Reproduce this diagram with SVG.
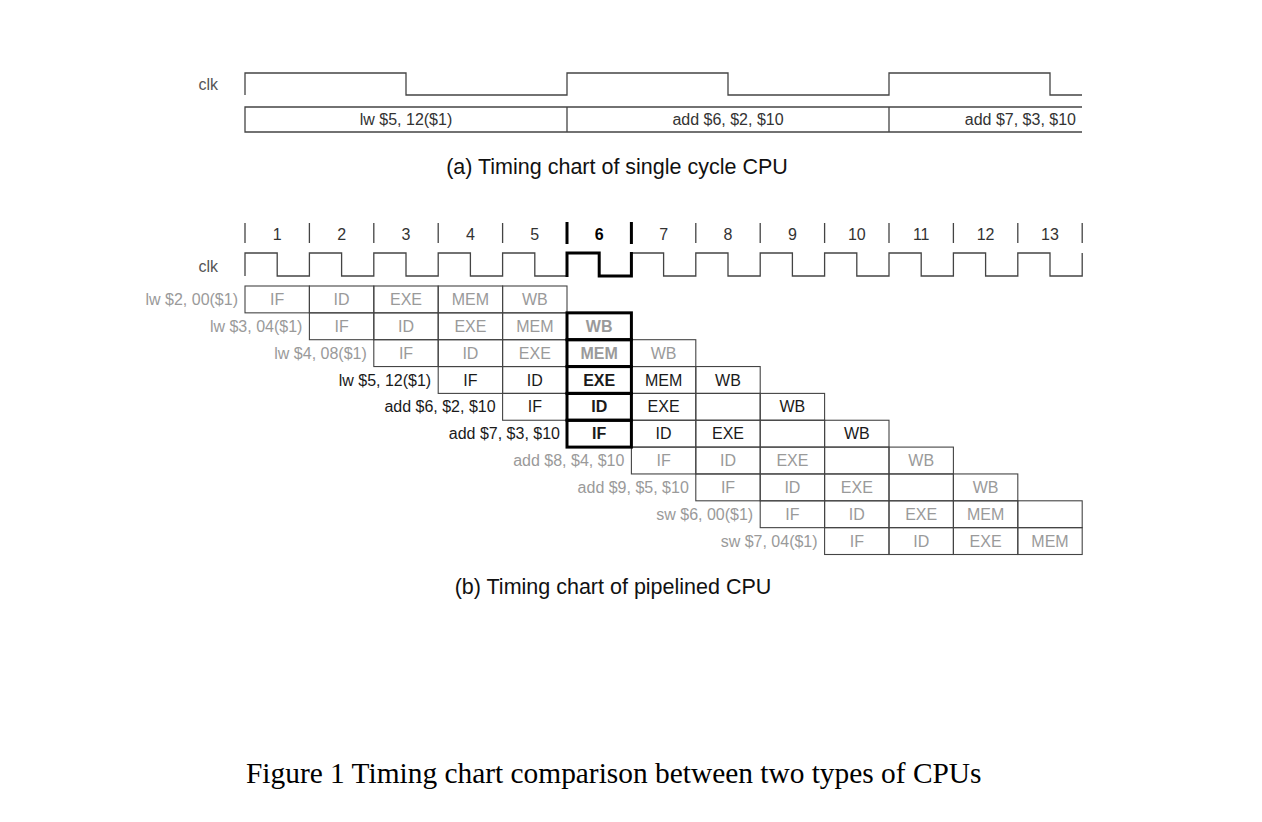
<svg xmlns="http://www.w3.org/2000/svg" width="1262" height="822" viewBox="0 0 1262 822">
<style>
text{font-family:"Liberation Sans",Arial,sans-serif;font-size:16px;}
.g{fill:#9a9a9a;}
.k{fill:#1a1a1a;}
.d{fill:#333;}
.c{text-anchor:middle;}
.e{text-anchor:end;}
.b{font-weight:bold;}
.cell{fill:none;stroke:#444;stroke-width:1.1;}
.hl{fill:none;stroke:#000;stroke-width:3;}
.wave{fill:none;stroke:#444;stroke-width:1.3;}
.tick{stroke:#444;stroke-width:1.3;}
.cap{font-size:21.5px;fill:#111;text-anchor:middle;}
.fig{font-family:"Liberation Serif","Times New Roman",serif;font-size:29.4px;fill:#000;}
</style>
<rect width="1262" height="822" fill="#fff"/>

<g id="single-cycle">
  <text x="218" y="90" class="e" fill="#555">clk</text>
  <path class="wave" d="M245,95 V73 H406 V95 H567 V73 H728 V95 H889 V73 H1050 V95 H1082"/>
  <path class="wave" d="M1082,107 H245 V132 H1082 M567,107 V132 M889,107 V132"/>
  <text x="406" y="125" class="c d">lw $5, 12($1)</text>
  <text x="728" y="125" class="c d">add $6, $2, $10</text>
  <text x="1076" y="125" class="e d">add $7, $3, $10</text>
  <text x="617" y="174" class="cap">(a) Timing chart of single cycle CPU</text>
</g>

<g id="cycle-numbers">
  <path class="tick" d="M245,223V243 M309.4,223V243 M373.8,223V243 M438.2,223V243 M502.6,223V243 M695.8,223V243 M760.2,223V243 M824.6,223V243 M889,223V243 M953.4,223V243 M1017.8,223V243 M1082.2,223V243"/>
  <path stroke="#000" stroke-width="3" d="M567,222V244 M631.4,222V244"/>
  <g class="c d">
    <text x="277.2" y="240">1</text><text x="341.6" y="240">2</text><text x="406" y="240">3</text>
    <text x="470.4" y="240">4</text><text x="534.8" y="240">5</text>
    <text x="599.2" y="240" class="b" fill="#000">6</text>
    <text x="663.6" y="240">7</text><text x="728" y="240">8</text><text x="792.4" y="240">9</text>
    <text x="856.8" y="240">10</text><text x="921.2" y="240">11</text><text x="985.6" y="240">12</text>
    <text x="1050" y="240">13</text>
  </g>
</g>

<g id="pipeline-clk">
  <text x="218" y="272" class="e" fill="#555">clk</text>
  <path class="wave" d="M245,276 V253 H277.2 V276 H309.4 V253 H341.6 V276 H373.8 V253 H406 V276 H438.2 V253 H470.4 V276 H502.6 V253 H534.8 V276 H567 V253 H599.2 V276 H631.4 V253 H663.6 V276 H695.8 V253 H728 V276 H760.2 V253 H792.4 V276 H824.6 V253 H856.8 V276 H889 V253 H921.2 V276 H953.4 V253 H985.6 V276 H1017.8 V253 H1050 V276 H1082.2 V253"/>
  <path fill="none" stroke="#000" stroke-width="3" d="M567,277 V253 H599.2 V276 H631.4 V252"/>
</g>

<g id="row1">
  <text x="238" y="305" class="e g">lw $2, 00($1)</text>
  <rect class="cell" x="245" y="286" width="64.4" height="26.85"/>
  <rect class="cell" x="309.4" y="286" width="64.4" height="26.85"/>
  <rect class="cell" x="373.8" y="286" width="64.4" height="26.85"/>
  <rect class="cell" x="438.2" y="286" width="64.4" height="26.85"/>
  <rect class="cell" x="502.6" y="286" width="64.4" height="26.85"/>
  <g class="c g"><text x="277.2" y="305">IF</text><text x="341.6" y="305">ID</text><text x="406" y="305">EXE</text><text x="470.4" y="305">MEM</text><text x="534.8" y="305">WB</text></g>
</g>

<g id="row2">
  <text x="302.4" y="331.85" class="e g">lw $3, 04($1)</text>
  <rect class="cell" x="309.4" y="312.85" width="64.4" height="26.85"/>
  <rect class="cell" x="373.8" y="312.85" width="64.4" height="26.85"/>
  <rect class="cell" x="438.2" y="312.85" width="64.4" height="26.85"/>
  <rect class="cell" x="502.6" y="312.85" width="64.4" height="26.85"/>
  <rect class="cell" x="567" y="312.85" width="64.4" height="26.85"/>
  <g class="c g"><text x="341.6" y="331.85">IF</text><text x="406" y="331.85">ID</text><text x="470.4" y="331.85">EXE</text><text x="534.8" y="331.85">MEM</text><text x="599.2" y="331.85" class="b">WB</text></g>
</g>

<g id="row3">
  <text x="366.8" y="358.7" class="e g">lw $4, 08($1)</text>
  <rect class="cell" x="373.8" y="339.7" width="64.4" height="26.85"/>
  <rect class="cell" x="438.2" y="339.7" width="64.4" height="26.85"/>
  <rect class="cell" x="502.6" y="339.7" width="64.4" height="26.85"/>
  <rect class="cell" x="567" y="339.7" width="64.4" height="26.85"/>
  <rect class="cell" x="631.4" y="339.7" width="64.4" height="26.85"/>
  <g class="c g"><text x="406" y="358.7">IF</text><text x="470.4" y="358.7">ID</text><text x="534.8" y="358.7">EXE</text><text x="599.2" y="358.7" class="b">MEM</text><text x="663.6" y="358.7">WB</text></g>
</g>

<g id="row4">
  <text x="431.2" y="385.55" class="e k">lw $5, 12($1)</text>
  <rect class="cell" x="438.2" y="366.55" width="64.4" height="26.85"/>
  <rect class="cell" x="502.6" y="366.55" width="64.4" height="26.85"/>
  <rect class="cell" x="567" y="366.55" width="64.4" height="26.85"/>
  <rect class="cell" x="631.4" y="366.55" width="64.4" height="26.85"/>
  <rect class="cell" x="695.8" y="366.55" width="64.4" height="26.85"/>
  <g class="c k"><text x="470.4" y="385.55">IF</text><text x="534.8" y="385.55">ID</text><text x="599.2" y="385.55" class="b">EXE</text><text x="663.6" y="385.55">MEM</text><text x="728" y="385.55">WB</text></g>
</g>

<g id="row5">
  <text x="495.6" y="412.4" class="e k">add $6, $2, $10</text>
  <rect class="cell" x="502.6" y="393.4" width="64.4" height="26.85"/>
  <rect class="cell" x="567" y="393.4" width="64.4" height="26.85"/>
  <rect class="cell" x="631.4" y="393.4" width="64.4" height="26.85"/>
  <rect class="cell" x="695.8" y="393.4" width="64.4" height="26.85"/>
  <rect class="cell" x="760.2" y="393.4" width="64.4" height="26.85"/>
  <g class="c k"><text x="534.8" y="412.4">IF</text><text x="599.2" y="412.4" class="b">ID</text><text x="663.6" y="412.4">EXE</text><text x="792.4" y="412.4">WB</text></g>
</g>

<g id="row6">
  <text x="560" y="439.25" class="e k">add $7, $3, $10</text>
  <rect class="cell" x="567" y="420.25" width="64.4" height="26.85"/>
  <rect class="cell" x="631.4" y="420.25" width="64.4" height="26.85"/>
  <rect class="cell" x="695.8" y="420.25" width="64.4" height="26.85"/>
  <rect class="cell" x="760.2" y="420.25" width="64.4" height="26.85"/>
  <rect class="cell" x="824.6" y="420.25" width="64.4" height="26.85"/>
  <g class="c k"><text x="599.2" y="439.25" class="b">IF</text><text x="663.6" y="439.25">ID</text><text x="728" y="439.25">EXE</text><text x="856.8" y="439.25">WB</text></g>
</g>

<g id="row7">
  <text x="624.4" y="466.1" class="e g">add $8, $4, $10</text>
  <rect class="cell" x="631.4" y="447.1" width="64.4" height="26.85"/>
  <rect class="cell" x="695.8" y="447.1" width="64.4" height="26.85"/>
  <rect class="cell" x="760.2" y="447.1" width="64.4" height="26.85"/>
  <rect class="cell" x="824.6" y="447.1" width="64.4" height="26.85"/>
  <rect class="cell" x="889" y="447.1" width="64.4" height="26.85"/>
  <g class="c g"><text x="663.6" y="466.1">IF</text><text x="728" y="466.1">ID</text><text x="792.4" y="466.1">EXE</text><text x="921.2" y="466.1">WB</text></g>
</g>

<g id="row8">
  <text x="688.8" y="492.95" class="e g">add $9, $5, $10</text>
  <rect class="cell" x="695.8" y="473.95" width="64.4" height="26.85"/>
  <rect class="cell" x="760.2" y="473.95" width="64.4" height="26.85"/>
  <rect class="cell" x="824.6" y="473.95" width="64.4" height="26.85"/>
  <rect class="cell" x="889" y="473.95" width="64.4" height="26.85"/>
  <rect class="cell" x="953.4" y="473.95" width="64.4" height="26.85"/>
  <g class="c g"><text x="728" y="492.95">IF</text><text x="792.4" y="492.95">ID</text><text x="856.8" y="492.95">EXE</text><text x="985.6" y="492.95">WB</text></g>
</g>

<g id="row9">
  <text x="753.2" y="519.8" class="e g">sw $6, 00($1)</text>
  <rect class="cell" x="760.2" y="500.8" width="64.4" height="26.85"/>
  <rect class="cell" x="824.6" y="500.8" width="64.4" height="26.85"/>
  <rect class="cell" x="889" y="500.8" width="64.4" height="26.85"/>
  <rect class="cell" x="953.4" y="500.8" width="64.4" height="26.85"/>
  <rect class="cell" x="1017.8" y="500.8" width="64.4" height="26.85"/>
  <g class="c g"><text x="792.4" y="519.8">IF</text><text x="856.8" y="519.8">ID</text><text x="921.2" y="519.8">EXE</text><text x="985.6" y="519.8">MEM</text></g>
</g>

<g id="row10">
  <text x="817.6" y="546.65" class="e g">sw $7, 04($1)</text>
  <rect class="cell" x="824.6" y="527.65" width="64.4" height="26.85"/>
  <rect class="cell" x="889" y="527.65" width="64.4" height="26.85"/>
  <rect class="cell" x="953.4" y="527.65" width="64.4" height="26.85"/>
  <rect class="cell" x="1017.8" y="527.65" width="64.4" height="26.85"/>
  <g class="c g"><text x="856.8" y="546.65">IF</text><text x="921.2" y="546.65">ID</text><text x="985.6" y="546.65">EXE</text><text x="1050" y="546.65">MEM</text></g>
</g>

<g id="cycle6-highlight">
  <rect class="hl" x="567" y="312.85" width="64.4" height="26.85"/>
  <rect class="hl" x="567" y="339.7" width="64.4" height="26.85"/>
  <rect class="hl" x="567" y="366.55" width="64.4" height="26.85"/>
  <rect class="hl" x="567" y="393.4" width="64.4" height="26.85"/>
  <rect class="hl" x="567" y="420.25" width="64.4" height="26.85"/>
</g>

<g id="connectors"></g>

<text x="613" y="594" class="cap">(b) Timing chart of pipelined CPU</text>
<text x="246" y="783" class="fig">Figure 1 Timing chart comparison between two types of CPUs</text>
</svg>
